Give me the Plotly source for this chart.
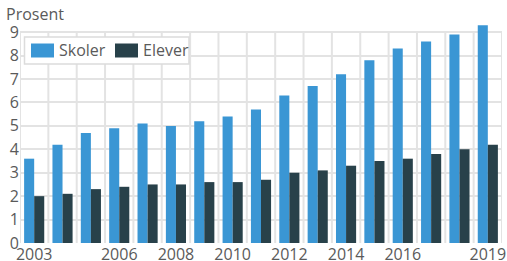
import plotly.graph_objects as go

years = list(range(2003, 2020))
skoler = [3.6, 4.2, 4.7, 4.9, 5.1, 5.0, 5.2, 5.4, 5.7, 6.3, 6.7, 7.2, 7.8, 8.3, 8.6, 8.9, 9.3]
elever = [2.0, 2.1, 2.3, 2.4, 2.5, 2.5, 2.6, 2.6, 2.7, 3.0, 3.1, 3.3, 3.5, 3.6, 3.8, 4.0, 4.2]
tick_years = [2003, 2006, 2008, 2010, 2012, 2014, 2016, 2019]
y_ticks = list(range(0, 10))
series_names = ["Skoler", "Elever"]
series_colors = ["#3a96d4", "#28414a"]

FONT = "Open Sans"
TXT = "#5a5a5a"
GRID = "#e3e3e3"

W, H = 507, 261
ML, MR, MT, MB = 20, 5, 24, 18
PW, PH = W - ML - MR, H - MT - MB


def px_x(px):
    return (px - ML) / PW


def px_y(py):
    return (H - MB - py) / PH


fig = go.Figure()
for name, vals, col in zip(series_names, [skoler, elever], series_colors):
    fig.add_trace(go.Bar(x=years, y=vals, name=name, marker=dict(color=col, line_width=0),
                         showlegend=False))

# vertical grid lines between categories, from 0 to 9
for b in [years[0] - 0.5 + i for i in range(len(years) + 1)]:
    fig.add_shape(type="line", x0=b, x1=b, y0=0, y1=max(y_ticks), xref="x", yref="y",
                  line=dict(color=GRID, width=2), layer="below")

# custom legend box
fig.add_shape(type="rect", xref="paper", yref="paper", x0=px_x(24.5), x1=px_x(189), y0=px_y(64),
              y1=px_y(37), line=dict(color="#dcdcdc", width=1.5), fillcolor="white", layer="above")
legend_x = [31, 115]
annotations = []
for name, col, lx in zip(series_names, series_colors, legend_x):
    fig.add_shape(type="rect", xref="paper", yref="paper", x0=px_x(lx), x1=px_x(lx + 23),
                  y0=px_y(57.5), y1=px_y(43.5), line_width=0, fillcolor=col, layer="above")
    annotations.append(dict(text=name, xref="paper", yref="paper", x=px_x(lx + 26), y=px_y(50.5),
                            xanchor="left", yanchor="middle", showarrow=False,
                            font=dict(size=16, color=TXT)))

annotations.append(dict(text="Prosent", xref="paper", yref="paper", x=px_x(4), y=px_y(27),
                        xanchor="left", yanchor="bottom", showarrow=False,
                        font=dict(size=16, color=TXT)))

fig.update_layout(
    width=W, height=H,
    margin=dict(l=ML, r=MR, t=MT, b=MB, autoexpand=False),
    paper_bgcolor="white", plot_bgcolor="white",
    barmode="group", bargap=0.29, bargroupgap=0,
    font=dict(family=FONT, color=TXT, size=16),
    showlegend=False,
    xaxis=dict(range=[years[0] - 0.5, years[-1] + 0.5], tickvals=tick_years,
               ticktext=[str(t) for t in tick_years], showgrid=False, zeroline=False,
               ticks="", tickfont=dict(size=16, color=TXT), showline=False, automargin=False),
    yaxis=dict(range=[0, 9.35], tickvals=y_ticks, showgrid=True, gridcolor=GRID, gridwidth=2,
               zeroline=False, ticks="", tickfont=dict(size=16, color=TXT), showline=False,
               automargin=False),
    annotations=annotations,
)

fig.write_html("out.html", config={"displayModeBar": False},
               post_script="document.body.style.margin='0';document.body.style.overflow='hidden';")
